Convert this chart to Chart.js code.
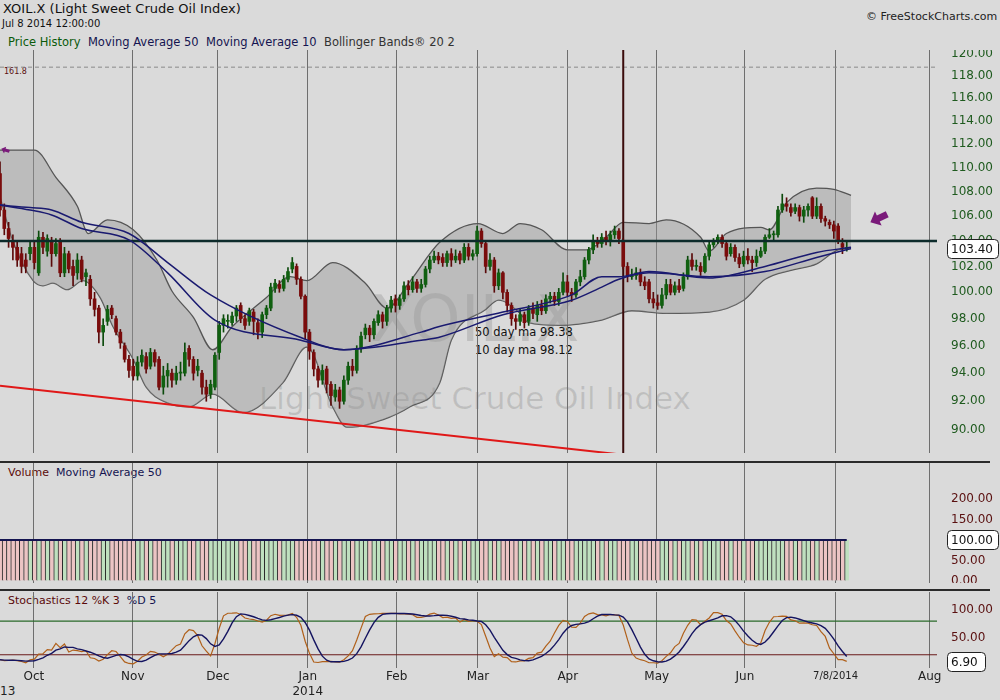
<!DOCTYPE html>
<html><head><meta charset="utf-8">
<script src="https://cdn.jsdelivr.net/npm/chart.js@4"></script>
<style>
body{margin:0;background:#dadada;width:1000px;height:700px;overflow:hidden;position:relative;font-family:'DejaVu Sans',sans-serif}
.t{position:absolute;white-space:nowrap}
canvas{position:absolute;left:0}
.sep{position:absolute;left:0;width:990px;height:2px;background:#2a2a2a}
</style></head><body>
<div class="t" style="left:250px;top:282px;font-size:64px;color:rgba(0,0,0,0.12);width:450px;text-align:center">XOIL.X</div>
<div class="t" style="left:190px;top:380px;font-size:31px;color:rgba(0,0,0,0.12);width:570px;text-align:center">Light Sweet Crude Oil Index</div>
<div class="t" style="left:3px;top:1px;font-size:13px;color:#111">XOIL.X (Light Sweet Crude Oil Index)</div>
<div class="t" style="left:2px;top:18px;font-size:10px;color:#111">Jul 8 2014 12:00:00</div>
<div class="t" style="left:8px;top:35px;font-size:11.5px"><span style="color:#0b5a0b">Price History</span>&nbsp; <span style="color:#141450">Moving Average 50</span>&nbsp; <span style="color:#141450">Moving Average 10</span>&nbsp; <span style="color:#333">Bollinger Bands® 20 2</span></div>
<div class="t" style="left:866px;top:10px;font-size:11px;color:#222">© FreeStockCharts.com</div>
<div class="t" style="left:4px;top:67px;font-size:8px;color:#5a1010">161.8</div>
<div class="t" style="left:475px;top:323px;font-size:11.5px;color:#111;line-height:18px">50 day ma 98.38<br>10 day ma 98.12</div>
<div class="t" style="left:8px;top:466px;font-size:11px"><span style="color:#5a0a0a">Volume</span>&nbsp; <span style="color:#141450">Moving Average 50</span></div>
<div class="t" style="left:8px;top:594px;font-size:11px"><span style="color:#5a0a0a">Stochastics 12 %K 3</span>&nbsp; <span style="color:#141450">%D 5</span></div>
<div class="t" style="left:0px;top:684px;font-size:12px;color:#222">13</div>
<div class="sep" style="top:461px"></div>
<div class="sep" style="top:589px"></div>
<canvas id="cp" width="1000" height="403" style="top:50px"></canvas>
<canvas id="cv" width="1000" height="120" style="top:463px"></canvas>
<canvas id="cs" width="1000" height="108" style="top:592px"></canvas>
<script>
// trading-day index axis; month tick positions
const monthTickIdx = [7.9,30.9,50.7,71.6,92.3,111.2,132.1,152.8,173.3,194.4,216.3];
const monthTickLabels = ["Oct","Nov","Dec",["Jan","2014"],"Feb","Mar","Apr","May","Jun","7/8/2014","Aug"];
const priceTicks = [90,92,94,96,98,100,102,104,106,108,110,112,114,116,118,120];
const volumeTicks = [0,50,150,200];
const stochTicks = [50,100];

const open = [109.5,106.5,105,104,103.5,103,102.5,103,103.5,101.5,
104.3,103.2,104,103,104,101.5,103,102,101.5,102.5,
101.2,101,99.5,98.8,97,97.8,98.8,98,97,96,
95,94.5,93.8,94.8,95.2,94.5,95.5,95,93,93.8,
94,93.5,94,94,95.8,95,94.2,94,93,92.5,
93,95.5,97.5,97.8,97.7,98.2,99,98,97.8,98.5,
97.7,97,98.3,98.8,100.3,100.6,100.3,101,101.8,102,
101,99.7,97,95.5,94.3,93.5,94.3,93.2,92.3,92.8,
92,93.5,94.5,94.2,95.8,96.8,97.3,96.8,97.7,98.3,
97.8,98.8,99.5,99,99.5,100.5,100.2,100.8,100.3,100.6,
101.8,102.5,102.8,102.7,102.3,103,102.5,103,102.5,103.5,
102.8,103,104.8,103.8,102,102.5,100.5,101.5,100,99,
98,97.8,98.3,97.8,98.8,98.3,99,98.6,99.5,99.7,
99.3,100,100.8,100,99.8,100.8,101.2,102.5,103.3,104,
103.8,104.3,104,104.5,104.8,104,102,101.2,101.3,101.5,
100.8,100.8,99.5,99.2,99,99.8,100.6,100,100.5,100.3,
101.2,102.5,102,102,101.6,102.8,103.7,104,104.3,103.8,
103,103.5,102.7,102.2,102.8,102.5,102.3,102.8,103.2,104.3,
104.5,104.5,106.5,107,106.7,106.4,106.7,106,106.5,107.5,
106,106.8,105.8,105.5,105.3,105.2,103.8,103.4];
const close = [106.5,105,104.2,103.5,102.5,102,102,103.5,102.3,104.3,
103.5,104.2,103,103.8,101.5,103,101.8,101.3,102.5,101,
101.5,99.5,98.7,97,97.5,98.7,98.3,97,96.2,95,
94.2,93.8,94.8,95.3,94.3,95.5,94.8,93,93.8,94.2,
93.5,94,94,95.5,95,94,94.5,93,92.5,93.2,
95.3,97.5,98,97.8,98.2,98.8,98,97.5,98.6,97.8,
97,98.3,98.8,100.4,100.7,100.3,101,101.6,102.3,101,
99.7,97,95.6,94.3,93.5,94.2,93.2,92.4,92.8,92,
93.5,94.5,94.2,95.8,96.7,97.3,96.8,97.8,98.3,97.8,
98.8,99.4,99,99.5,100.5,100.2,100.8,100.3,100.6,101.8,
102.5,102.8,102.5,102.3,103,102.5,102.8,102.5,103.5,102.8,
103,104.8,103.8,102,102.5,100.5,101.5,100,99,98,
97.8,98.3,97.7,98.8,98.4,99,98.6,99.5,99.7,99.3,
100,100.8,100,99.8,100.8,101.2,102.5,103.3,104,103.8,
104.3,104,104.5,104.8,104.2,102,101.2,101.3,101.5,100.8,
100.5,99.5,99.2,99,99.8,100.6,100,100.5,100.2,101.2,
102.5,102,102,101.6,102.8,103.7,104,104.3,103.8,102.8,
103.5,102.7,102.2,102.8,102.5,102.3,102.8,103.2,104.3,104.5,
104.5,106.5,107,106.8,106.3,106.7,106,106.5,106.8,106,
106.8,105.8,105.6,105.3,104.8,104,103.5,103.4];
const high = [110.5,107,105.5,104.5,104,103.5,103,104,104,104.8,
104.7,104.5,104.3,104.2,104.2,103.5,103.2,102.5,103,102.8,
101.8,101.3,100,99,98,99,99,98.2,97.2,96.2,
95.3,95,95.2,95.7,95.5,95.8,95.7,95.2,94.5,94.7,
94.3,94.5,94.8,96.2,96,95.2,95,94.2,93.5,93.5,
95.5,97.8,98.3,98.3,98.5,99,99.2,98.3,98.8,98.7,
98,98.5,99,100.7,101,100.9,101.3,101.9,102.7,102.2,
101.2,99.8,97.2,95.7,94.5,94.6,94.5,93.4,93.2,93,
93.8,94.8,95,96,97,97.6,97.5,98,98.6,98.5,
99,99.7,99.8,99.8,100.8,100.9,101.2,101,101,102,
102.8,103.2,103.1,103,103.2,103.4,103.3,103.2,103.8,103.8,
103.3,105.2,105,104,103,102.7,101.8,101.6,100.2,99.2,
98.3,98.7,98.5,99,99.2,99.3,99.4,99.8,100,100,
100.3,101.5,101.3,100.3,101,101.7,102.7,103.5,104.5,104.3,
104.6,104.8,104.8,105.2,105,104.2,102.3,101.8,101.9,101.8,
101.2,101,100,99.8,100.3,101,101,100.8,101,101.5,
102.8,103,102.5,102.3,103,104,104.2,104.5,104.5,104,
103.8,103.7,103,103.2,103.4,102.8,103.3,103.5,104.5,105,
104.8,106.8,107.8,107.5,107,107,106.9,106.8,107,107.6,
107.5,107,106,105.7,105.6,105.4,104.2,104];
const low = [106,104.5,103.5,102.5,102,101.5,101.5,102.5,101.8,101.3,
103,102.8,102,102.8,101.2,101.2,101.5,100.5,101,100.8,
100.5,99,98.2,96.2,96,97.5,98,96.8,95.8,94.8,
93.7,93.5,93.5,94.5,94,94.3,94.5,92.8,92.5,93,
93,93.2,93.5,93.8,94.5,93.5,93.8,92.5,92,92.2,
92.8,95,97,97.3,97.5,97.8,97.7,97.2,97.5,96.8,
96.5,96.6,98,98.6,100,100,100.1,100.8,101.5,100.6,
99.5,96.5,95,93.8,93,93.2,92.6,91.7,92,91.5,
91.8,93.2,93.8,94,95.5,96.5,96.3,96.5,97.5,97.3,
97.5,98.5,98.5,98.7,99.3,99.8,100,100,100,100.4,
101.5,102.3,102.2,102,102,102,102.3,102.2,102.3,102.5,
102.5,102.8,103.5,101.5,101.7,100,100.2,99.5,98.5,97.5,
97.2,97.5,97.3,97.5,98,97.8,98.3,98.4,99.2,99,
99,99.8,99.7,99.3,99.6,100.5,101,102.2,103,103.5,
103.5,103.7,103.6,104.2,103.8,101.8,100.8,101,101,100.5,
100.2,99.2,98.8,98.7,98.8,99.5,99.8,99.8,100,100.1,
101,101.7,101.7,101.3,101.5,102.5,103.5,103.8,103.5,102.5,
102.8,102.4,101.9,102,102.2,101.6,102,102.7,103,104.2,
104,104.3,106.3,106.4,106,106.2,105.6,105.5,106,105.8,
105.8,105.5,105.2,105,104.2,103.8,103,103.2];
const volume = [100,100,100,100,100,100,100,100,100,100,100,100,100,100,100,100,100,100,100,100,
100,100,100,100,100,100,100,100,100,100,100,100,100,100,100,100,100,100,100,100,
100,100,100,100,100,100,100,100,100,100,100,100,100,100,100,100,100,100,100,100,
100,100,100,100,100,100,100,100,100,100,100,100,100,100,100,100,100,100,100,100,
100,100,100,100,100,100,100,100,100,100,100,100,100,100,100,100,100,100,100,100,
100,100,100,100,100,100,100,100,100,100,100,100,100,100,100,100,100,100,100,100,
100,100,100,100,100,100,100,100,100,100,100,100,100,100,100,100,100,100,100,100,
100,100,100,100,100,100,100,100,100,100,100,100,100,100,100,100,100,100,100,100,
100,100,100,100,100,100,100,100,100,100,100,100,100,100,100,100,100,100,100,100,
100,100,100,100,100,100,100,100,100,100,100,100,100,100,100,100,100,100];
// indicator lines [dayIndex, value]
const ma50 = [[0,106.9],[7,106.7],[12,106.5],[19,105.5],[30,104.6],[39,102.3],[49,99.8],[70,96.6],[80,95.7],[98,97.0],[102,97.4],[117,98.5],[133,99.8],[140,101.2],[144,101.2],[151,101.6],[165,101.1],[178,102.0],[190,103.1],[198,103.5]];
const ma10 = [[0,106.9],[7,106.5],[12,106.1],[19,105.0],[30,104.1],[39,101.5],[50,97.9],[70,96.4],[80,95.7],[98,96.4],[102,96.6],[117,98.3],[133,99.4],[140,100.4],[144,101.0],[151,101.5],[165,101.2],[178,101.6],[190,102.7],[198,103.4]];
const bbUpper = [[0,111.5],[8,111.5],[13,109.2],[18,106.8],[20.5,104.6],[25,105.7],[31,104.9],[36.5,102.5],[40,100.1],[45,98.1],[49.5,95.7],[54,97.4],[62,99.6],[67.5,101.2],[71.4,100.9],[77.4,102.3],[85,100.7],[90,98.8],[95.3,100.8],[102.3,103.9],[111.2,105.4],[117,104.6],[121,105.4],[126,104.9],[132,103.3],[136.5,103.3],[141,104.3],[145,105.5],[151,105.4],[155,105.7],[163,104.3],[165,103.2],[169,104.6],[177,105.1],[179,104.9],[183,107.1],[190,108.3],[194,108.2],[198,107.7]];
const bbLower = [[0,107.6],[3,104],[7.7,100.9],[10,100.5],[12.3,100.7],[15.6,100.2],[19.3,100.9],[23.3,99.6],[26.3,97.4],[31,95.0],[34,93.0],[38.8,91.9],[44,91.6],[49.5,92.5],[56.5,91.2],[65.8,93.3],[71.4,95.9],[77.4,91.6],[80.7,90.2],[82,90.2],[89,90.7],[95.3,91.6],[102.3,93.3],[105,96.4],[113,98.7],[116,99.4],[121,98.4],[123,97.7],[130,97.5],[140,97.9],[147,98.6],[155,98.4],[165,98.5],[173,99.4],[178,101],[184,101.7],[190,102.2],[195,103.3],[198,103.4]];
const trendLine = [[0,93.1],[154.7,88.0]];
const resistance = 104;
const fib1618 = 118.8;
const eventDay = 145;
const lastPrice = 103.40, lastStoch = 6.90;

const X_MAX = 218;
const pt = a => a.map(p => ({x:p[0], y:p[1]}));
const days = close.map((_, i) => i);
const up = i => close[i] >= open[i];

// stochastics 12, %K 3, %D 5
const raw = close.map((c, i) => {
  let hh = -Infinity, ll = Infinity;
  for (let j = Math.max(0, i - 11); j <= i; j++) { hh = Math.max(hh, high[j]); ll = Math.min(ll, low[j]); }
  return hh > ll ? (c - ll) / (hh - ll) * 100 : 50;
});
const avg = (arr, i, n) => { let s = 0, k = 0; for (let j = Math.max(0, i - n + 1); j <= i; j++) { s += arr[j]; k++; } return s / k; };
const pK = raw.map((_, i) => avg(raw, i, 3));
const pD = pK.map((_, i) => avg(pK, i, 5));

const F = {family:"'DejaVu Sans', sans-serif", size:12};
const gridX = {
  type:'linear', min:0, max:X_MAX, offset:false,
  afterBuildTicks: s => { s.ticks = monthTickIdx.map(v => ({value:v})); },
  grid:{color:'#6e6e6e', lineWidth:1, drawTicks:false, offset:false}, border:{display:false},
  ticks:{display:false}, afterFit: s => { s.height = 0; }
};
function yAxis(min, max, ticks, color, type) {
  return {
    type: type || 'linear', position:'right', min, max,
    afterBuildTicks: s => { s.ticks = ticks.map(v => ({value:v})); },
    afterFit: s => { s.width = 63; s.paddingTop = 0; s.paddingBottom = 0; },
    grid:{display:true, drawOnChartArea:false, drawTicks:true, tickLength:14, color:'rgba(0,0,0,0)'}, border:{display:false},
    ticks:{color, font:F, padding:0, callback: v => Number(v).toFixed(2), autoSkip:false}
  };
}
const boxPlugin = {
  id:'valbox',
  afterDraw(chart, args, opts) {
    const ctx = chart.ctx, ys = chart.scales.y;
    (opts.items || []).forEach(it => {
      const y = ys.getPixelForValue(it.value);
      ctx.save();
      ctx.fillStyle = '#fff'; ctx.strokeStyle = '#222'; ctx.lineWidth = 1;
      ctx.beginPath(); ctx.roundRect(947.5, Math.round(y) - 9.5, it.w || 51, 19, 4); ctx.fill(); ctx.stroke();
      ctx.fillStyle = '#111'; ctx.font = "12px 'DejaVu Sans'"; ctx.textBaseline = 'middle';
      ctx.fillText(it.text, 951, y + 1);
      ctx.restore();
    });
    (opts.arrows || []).forEach(a => {
      const x = chart.scales.x.getPixelForValue(a.x), y = ys.getPixelForValue(a.y);
      const s = a.s;
      ctx.save(); ctx.fillStyle = '#7a1a7a';
      ctx.translate(x, y); ctx.rotate(a.rot);
      ctx.beginPath();
      ctx.moveTo(0, 0); ctx.lineTo(s*0.8, -s*0.7); ctx.lineTo(s*0.8, -s*0.3); ctx.lineTo(s*1.7, -s*0.3);
      ctx.lineTo(s*1.7, s*0.3); ctx.lineTo(s*0.8, s*0.3); ctx.lineTo(s*0.8, s*0.7); ctx.closePath(); ctx.fill();
      ctx.restore();
    });
  }
};
const lineDs = (data, color, w, extra) => Object.assign({type:'line', data, borderColor:color, borderWidth:w, pointRadius:0, fill:false, tension:0}, extra || {});

// PRICE
new Chart(document.getElementById('cp'), {
  type:'bar',
  data:{datasets:[
    lineDs(pt(bbUpper), '#555', 1.3, {fill:'+1', backgroundColor:'rgba(150,150,150,0.45)', cubicInterpolationMode:'monotone', order:20}),
    lineDs(pt(bbLower), '#555', 1.3, {cubicInterpolationMode:'monotone', order:21}),
    lineDs([{x:0,y:fib1618},{x:X_MAX,y:fib1618}], '#8a8a8a', 1, {borderDash:[4,3], order:15}),
    lineDs(pt(trendLine), '#e01818', 2, {order:14}),
    lineDs([{x:0,y:resistance},{x:X_MAX,y:resistance}], '#0d2b2b', 2.5, {order:3}),
    lineDs([{x:eventDay,y:80},{x:eventDay,y:130}], '#3a0a0a', 2, {order:13}),
    {type:'bar', data: days.map(i => ({x:i, y:[low[i], high[i]]})), backgroundColor: days.map(i => up(i) ? '#0c4a0c' : '#5a0a0a'), barThickness:1, grouped:false, order:6},
    {type:'bar', data: days.map(i => ({x:i, y:[Math.min(open[i],close[i]), Math.max(open[i],close[i]) + (open[i]===close[i]?0.08:0)]})), backgroundColor: days.map(i => up(i) ? '#106010' : '#7a0c0c'), barThickness:3, grouped:false, order:5},
    lineDs(pt(ma50), '#1a1a70', 1.5, {cubicInterpolationMode:'monotone', order:2}),
    lineDs(pt(ma10), '#1a1a70', 1.5, {cubicInterpolationMode:'monotone', order:1})
  ]},
  options:{
    responsive:false, animation:false, layout:{padding:0},
    plugins:{legend:{display:false}, tooltip:{enabled:false},
      valbox:{items:[{value:lastPrice, text:lastPrice.toFixed(2)}], arrows:[{x:202.5,y:105.5,s:11,rot:-0.45},{x:0.3,y:111.6,s:5,rot:0.3}]}},
    scales:{ x: gridX, y: yAxis(88.43, 120.37, priceTicks, '#1e5a1e', 'logarithmic') }
  },
  plugins:[boxPlugin]
});

// VOLUME
new Chart(document.getElementById('cv'), {
  type:'bar',
  data:{datasets:[
    lineDs(days.map(i => ({x:i, y:volume[i]})), '#141450', 2, {order:1}),
    {type:'bar', data: days.map(i => ({x:i, y:volume[i]})), backgroundColor: days.map(i => up(i) ? '#bfe0bf' : '#ecc4c4'), borderColor:'#2a2a2a', borderWidth:{left:1,right:0,top:0,bottom:0}, barThickness:4.3, grouped:false, order:2}
  ]},
  options:{
    responsive:false, animation:false, layout:{padding:0},
    plugins:{legend:{display:false}, tooltip:{enabled:false}, valbox:{items:[{value:100, text:'100.00'}]}},
    scales:{ x: gridX, y: yAxis(-4.9, 287.8, volumeTicks, '#5a1010') }
  },
  plugins:[boxPlugin]
});

// STOCHASTICS
const stX = Object.assign({}, gridX, {
  afterFit: s => { s.height = 32; },
  ticks:{display:true, autoSkip:false, maxRotation:0, color:'#222', padding:2,
    font: c => (c.index === 9 ? {family:F.family, size:10} : F),
    callback: (v, i) => monthTickLabels[i]}
});
new Chart(document.getElementById('cs'), {
  type:'line',
  data:{datasets:[
    lineDs([{x:0,y:80},{x:X_MAX,y:80}], '#2a6a2a', 1.2, {order:5}),
    lineDs([{x:0,y:20},{x:X_MAX,y:20}], '#6a1a1a', 1.2, {order:6}),
    lineDs(days.map(i => ({x:i, y:pK[i]})), '#b0601a', 1.2, {order:2}),
    lineDs(days.map(i => ({x:i, y:pD[i]})), '#141460', 1.4, {order:1})
  ]},
  options:{
    responsive:false, animation:false, layout:{padding:0},
    plugins:{legend:{display:false}, tooltip:{enabled:false}, valbox:{items:[{value:lastStoch, text:lastStoch.toFixed(2), w:38}]}},
    scales:{ x: stX, y: yAxis(-3.6, 132, stochTicks, '#5a1010') }
  },
  plugins:[boxPlugin]
});
</script>
</body></html>
